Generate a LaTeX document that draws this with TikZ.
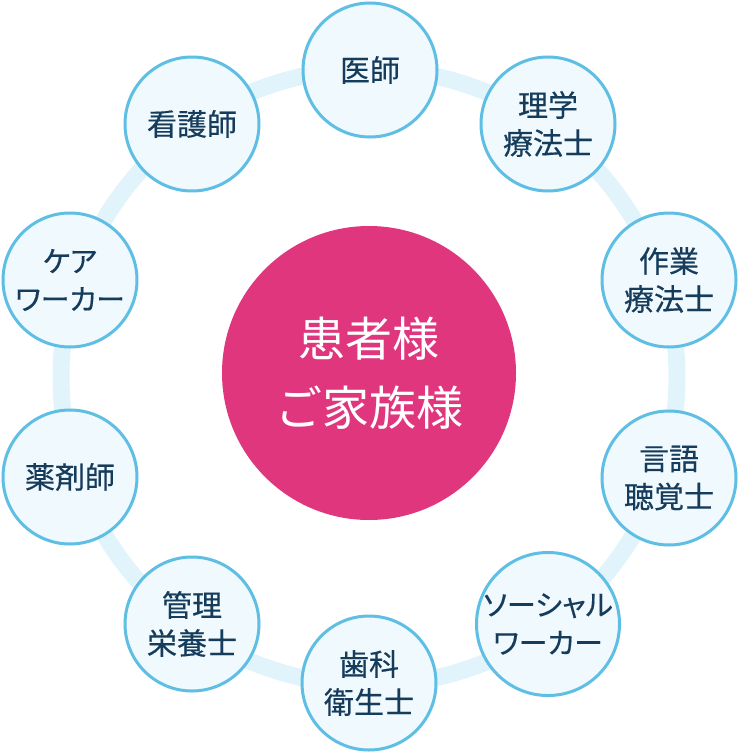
\documentclass[tikz,border=0pt]{standalone}
\usepackage{fontspec}
\setmainfont{Noto Sans CJK JP}
\newfontfamily\stafffont[FakeBold=0.4]{Noto Sans CJK JP}
\newfontfamily\kanafont[FakeBold=0.4, RawFeature=+palt]{Noto Sans CJK JP}
\usepackage{tikz}
\usetikzlibrary{positioning}
\definecolor{staffblue}{RGB}{94, 190, 228}
\definecolor{stafffill}{RGB}{240, 249, 253}
\definecolor{ringblue}{RGB}{226, 244, 251}
\definecolor{patientpink}{RGB}{224, 54, 126}
\definecolor{staffnavy}{RGB}{22, 60, 92}
\tikzset{
  staff/.style={circle, draw=staffblue, line width=3pt, fill=stafffill,
    minimum size=134pt, inner sep=0pt, align=center, text=staffnavy,
    font=\stafffont\fontsize{30}{38}\selectfont},
  longname/.style={font=\kanafont\fontsize{29}{38}\selectfont},
}

\begin{document}
\begin{tikzpicture}[x=1pt, y=-1pt]
    \useasboundingbox (0, 0) rectangle (740, 752);

    % Ring behind the staff circles
    \coordinate (hub) at (369, 377);
    \draw[ringblue, line width=17pt] (hub) circle (308pt);

    % Patient and family
    \node[circle, fill=patientpink, minimum size=294pt, inner sep=0pt, text=white,
      align=center, font=\fontsize{47}{69}\selectfont] (patient) at (369, 373) {患者様\\ご家族様};

    % Staff circles
    \node[staff] (doctor) at (370, 70) {医師};
    \node[staff] (pt) at (548, 124) {理学\\療法士};
    \node[staff] (ot) at (669, 280) {作業\\療法士};
    \node[staff] (st) at (669, 478) {言語\\聴覚士};
    \node[staff, longname] (msw) at (548, 624) {ソーシャル\\ワーカー};
    \node[staff] (dh) at (369, 683) {歯科\\衛生士};
    \node[staff] (rd) at (192, 624) {管理\\栄養士};
    \node[staff] (pharm) at (70, 477) {薬剤師};
    \node[staff, longname] (cw) at (70, 280) {ケア\\ワーカー};
    \node[staff] (nurse) at (192, 124) {看護師};
\end{tikzpicture}
\end{document}
